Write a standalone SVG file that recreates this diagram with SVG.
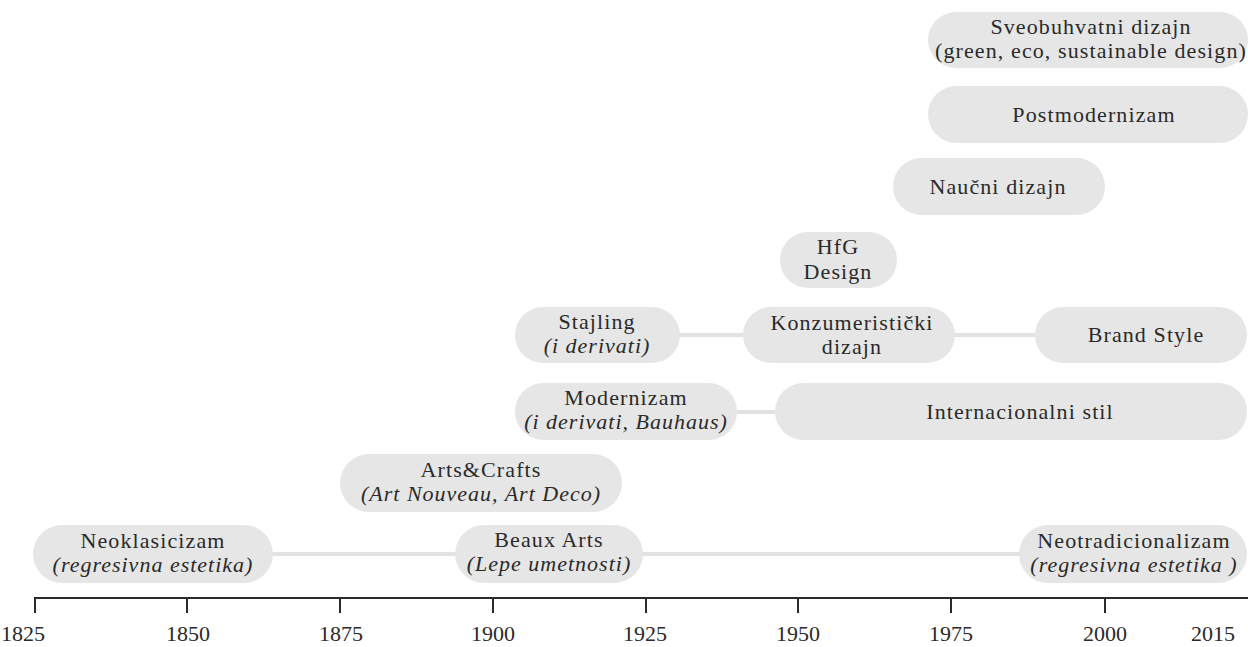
<svg xmlns="http://www.w3.org/2000/svg" width="1248" height="647" viewBox="0 0 1248 647">
<style>
.pill{fill:#e6e6e6;}
.t{font-family:'Liberation Serif',Tinos,'DejaVu Serif',serif;font-size:22px;fill:#2a2a2a;text-anchor:middle;letter-spacing:1.1px;}
.i{font-style:italic;letter-spacing:1px;}
.conn line{stroke:#e2e2e2;stroke-width:4;}
.axis line{stroke:#2a2a2a;stroke-width:2;}
.yr{font-family:'Liberation Serif',Tinos,'DejaVu Serif',serif;font-size:22px;fill:#2a2a2a;text-anchor:middle;}
</style>
<rect x="0" y="0" width="1248" height="647" fill="#ffffff"/>
<g id="connectors" class="conn">
<line x1="270" y1="554" x2="460" y2="554"/>
<line x1="640" y1="554" x2="1025" y2="554"/>
<line x1="733" y1="412" x2="780" y2="412"/>
<line x1="676" y1="335" x2="748" y2="335"/>
<line x1="950" y1="335" x2="1040" y2="335"/>
</g>
<g id="neoklasicizam"><rect class="pill" x="33" y="525" width="240" height="58" rx="29"/><text class="t" x="153" y="548">Neoklasicizam</text><text class="t i" x="153" y="572">(regresivna estetika)</text></g>
<g id="artscrafts"><rect class="pill" x="340" y="454" width="282" height="58" rx="29"/><text class="t" x="481" y="477">Arts&amp;Crafts</text><text class="t i" x="481" y="501">(Art Nouveau, Art Deco)</text></g>
<g id="beauxarts"><rect class="pill" x="455" y="525" width="188" height="58" rx="29"/><text class="t" x="549" y="547">Beaux Arts</text><text class="t i" x="549" y="571">(Lepe umetnosti)</text></g>
<g id="neotradicionalizam"><rect class="pill" x="1019" y="525" width="228" height="58" rx="29"/><text class="t" x="1134" y="548">Neotradicionalizam</text><text class="t i" x="1134" y="572">(regresivna estetika )</text></g>
<g id="modernizam"><rect class="pill" x="515" y="383" width="222" height="57" rx="28.5"/><text class="t" x="626" y="405">Modernizam</text><text class="t i" x="626" y="429">(i derivati, Bauhaus)</text></g>
<g id="internacionalni"><rect class="pill" x="775" y="383" width="472" height="57" rx="28.5"/><text class="t" x="1020" y="419">Internacionalni stil</text></g>
<g id="stajling"><rect class="pill" x="515" y="307" width="165" height="56" rx="28"/><text class="t" x="597" y="329">Stajling</text><text class="t i" x="597" y="353">(i derivati)</text></g>
<g id="konzumeristicki"><rect class="pill" x="743" y="307" width="212" height="56" rx="28"/><text class="t" x="852" y="330">Konzumeristički</text><text class="t" x="852" y="354">dizajn</text></g>
<g id="brandstyle"><rect class="pill" x="1035" y="307" width="212" height="56" rx="28"/><text class="t" x="1146" y="342">Brand Style</text></g>
<g id="hfg"><rect class="pill" x="780" y="232" width="117" height="56" rx="28"/><text class="t" x="838" y="254">HfG</text><text class="t" x="838" y="279">Design</text></g>
<g id="naucni"><rect class="pill" x="893" y="158" width="212" height="57" rx="28.5"/><text class="t" x="998" y="194">Naučni dizajn</text></g>
<g id="postmodernizam"><rect class="pill" x="928" y="86" width="320" height="57" rx="28.5"/><text class="t" x="1094" y="122">Postmodernizam</text></g>
<g id="sveobuhvatni"><rect class="pill" x="928" y="12" width="320" height="56" rx="28"/><text class="t" x="1091" y="34">Sveobuhvatni dizajn</text><text class="t" x="1091" y="58">(green, eco, sustainable design)</text></g>
<g id="axis" class="axis">
<line x1="34" y1="598" x2="1248" y2="598"/>
<line x1="35" y1="597" x2="35" y2="613"/>
<line x1="187" y1="597" x2="187" y2="613"/>
<line x1="340" y1="597" x2="340" y2="613"/>
<line x1="493" y1="597" x2="493" y2="613"/>
<line x1="646" y1="597" x2="646" y2="613"/>
<line x1="798" y1="597" x2="798" y2="613"/>
<line x1="951" y1="597" x2="951" y2="613"/>
<line x1="1105" y1="597" x2="1105" y2="613"/>
<text class="yr" x="23" y="641">1825</text>
<text class="yr" x="188" y="641">1850</text>
<text class="yr" x="341" y="641">1875</text>
<text class="yr" x="493" y="641">1900</text>
<text class="yr" x="645" y="641">1925</text>
<text class="yr" x="798" y="641">1950</text>
<text class="yr" x="951" y="641">1975</text>
<text class="yr" x="1105" y="641">2000</text>
<text class="yr" x="1213" y="641">2015</text>
</g>
</svg>
